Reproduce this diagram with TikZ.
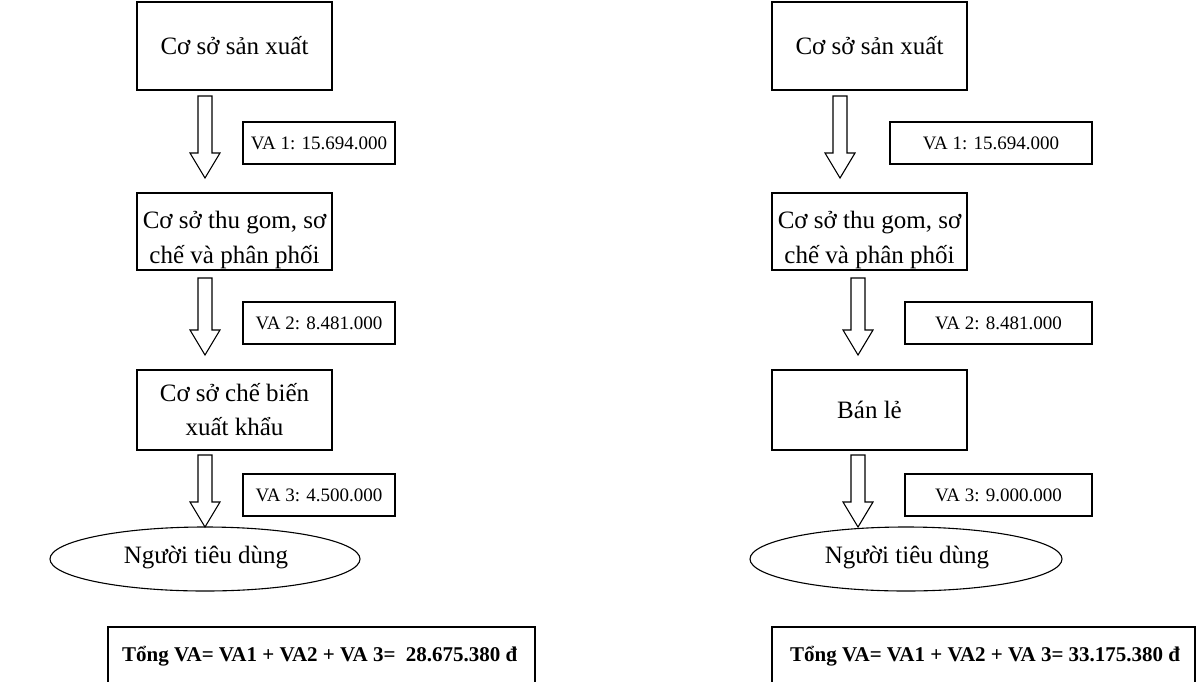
\documentclass[tikz,border=0pt]{standalone}
\usepackage{fontspec}
\setmainfont{Liberation Serif}
\usetikzlibrary{shapes.geometric,calc}
\tikzset{
  flowbox/.style={draw, line width=1.1pt, rectangle, inner sep=0pt, align=center, font=\fontsize{25}{34}\selectfont},
  vabox/.style={draw, line width=1.1pt, rectangle, inner sep=0pt, font=\fontsize{19}{23}\selectfont},
  endell/.style={draw, line width=1.1pt, ellipse, inner sep=0pt},
  bigtext/.style={inner sep=0pt, align=center, font=\fontsize{25}{35}\selectfont},
  tottext/.style={inner sep=0pt, anchor=west, font=\fontsize{21}{25}\selectfont\bfseries},
  arrowline/.style={draw, line width=1.1pt, fill=white, line join=miter},
  totline/.style={draw, line width=1.1pt}
}
\newcommand{\hollowarrow}[2]{%
  \draw[arrowline] ([xshift=-7pt]#1) -- ([xshift=-7pt,yshift=25pt]#2) -- ([xshift=-15pt,yshift=25pt]#2) -- (#2) -- ([xshift=15pt,yshift=25pt]#2) -- ([xshift=7pt,yshift=25pt]#2) -- ([xshift=7pt]#1) -- cycle;}
\begin{document}
\begin{tikzpicture}[x=1pt,y=-1pt]
\useasboundingbox (0,0) rectangle (1203,681);
% ---------- left column ----------
\node[flowbox, minimum width=195pt, minimum height=88pt] (L1) at (234.5,46) {Cơ sở sản xuất};
\coordinate (La1s) at (205,96); \coordinate (La1e) at (205,178);
\hollowarrow{La1s}{La1e}
\node[vabox, minimum width=152pt, minimum height=42pt] (Lv1) at (319,143) {VA 1: 15.694.000};
\node[flowbox, minimum width=195pt, minimum height=77pt] (L2) at (234.5,231.5) {};
\begin{scope}
  \clip (L2.north west) rectangle (L2.south east);
  \node[bigtext] (L2t) at (234.5,240) {Cơ sở thu gom, sơ\\chế và phân phối};
\end{scope}
\coordinate (La2s) at (205,278); \coordinate (La2e) at (205,355);
\hollowarrow{La2s}{La2e}
\node[vabox, minimum width=152pt, minimum height=42pt] (Lv2) at (319,323) {VA 2: 8.481.000};
\node[flowbox, minimum width=195pt, minimum height=80pt] (L3) at (234.5,410) {Cơ sở chế biến\\xuất khẩu};
\coordinate (La3s) at (205,455); \coordinate (La3e) at (205,527);
\hollowarrow{La3s}{La3e}
\node[vabox, minimum width=152pt, minimum height=42pt] (Lv3) at (319,495) {VA 3: 4.500.000};
\node[endell, minimum width=310pt, minimum height=64pt] (L4) at (205,559) {};
\begin{scope}
  \clip (50,527) rectangle (360,568);
  \node[bigtext] (L4t) at (206,557) {Người tiêu dùng};
\end{scope}
\draw[totline] (108,700) |- (535,627) -- (535,700);
\node[tottext] (Lt) at (122,656) {Tổng VA= VA1 + VA2 + VA 3=\ \ 28.675.380 đ};
% ---------- right column ----------
\node[flowbox, minimum width=195pt, minimum height=88pt] (R1) at (869.5,46) {Cơ sở sản xuất};
\coordinate (Ra1s) at (840,96); \coordinate (Ra1e) at (840,178);
\hollowarrow{Ra1s}{Ra1e}
\node[vabox, minimum width=202pt, minimum height=42pt] (Rv1) at (991,143) {VA 1: 15.694.000};
\node[flowbox, minimum width=195pt, minimum height=77pt] (R2) at (869.5,231.5) {};
\begin{scope}
  \clip (R2.north west) rectangle (R2.south east);
  \node[bigtext] (R2t) at (869.5,240) {Cơ sở thu gom, sơ\\chế và phân phối};
\end{scope}
\coordinate (Ra2s) at (858,278); \coordinate (Ra2e) at (858,355);
\hollowarrow{Ra2s}{Ra2e}
\node[vabox, minimum width=187pt, minimum height=42pt] (Rv2) at (998.5,323) {VA 2: 8.481.000};
\node[flowbox, minimum width=195pt, minimum height=80pt] (R3) at (869.5,410) {Bán lẻ};
\coordinate (Ra3s) at (858,455); \coordinate (Ra3e) at (858,527);
\hollowarrow{Ra3s}{Ra3e}
\node[vabox, minimum width=187pt, minimum height=42pt] (Rv3) at (998.5,495) {VA 3: 9.000.000};
\node[endell, minimum width=312pt, minimum height=64pt] (R4) at (906,559) {};
\begin{scope}
  \clip (750,527) rectangle (1062,568);
  \node[bigtext] (R4t) at (907,557) {Người tiêu dùng};
\end{scope}
\draw[totline] (772,700) |- (1195,627) -- (1195,700);
\node[tottext] (Rt) at (790,656) {Tổng VA= VA1 + VA2 + VA 3= 33.175.380 đ};
\end{tikzpicture}
\end{document}
